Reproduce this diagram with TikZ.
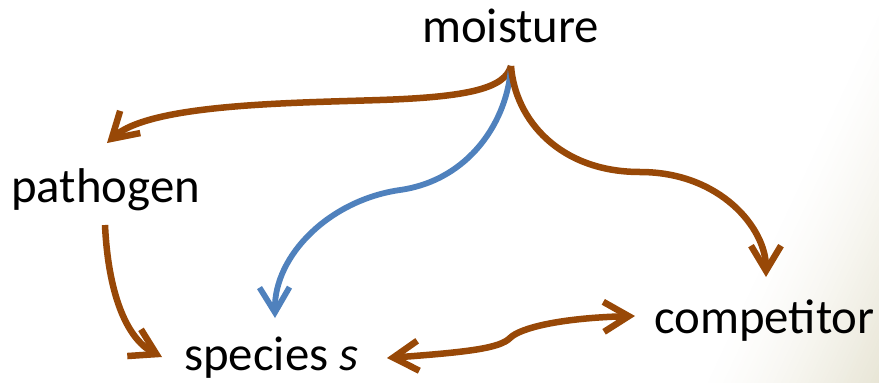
\documentclass[tikz,border=0pt]{standalone}
\usepackage{fontspec}
\setmainfont{Carlito}
\usetikzlibrary{arrows.meta}
\definecolor{brn}{RGB}{152,72,7}
\definecolor{blu}{RGB}{79,129,189}
\definecolor{bgc}{RGB}{222,218,196}
\tikzset{
  lbl/.style={anchor=base west, inner sep=0pt, font=\fontsize{48.8}{58}\selectfont, text=black},
  brarrow/.style={draw=brn, line width=6.5pt, -{Straight Barb[length=25pt,width=30pt]}},
  blarrow/.style={draw=blu, line width=5.8pt, -{Straight Barb[length=25pt,width=30pt]}},
  dbarrow/.style={draw=brn, line width=6.5pt, {Straight Barb[length=25pt,width=30pt]}-{Straight Barb[length=25pt,width=30pt]}}
}
\begin{document}
\begin{tikzpicture}[x=1pt,y=-1pt]
\useasboundingbox (0,0) rectangle (879,383);
% background
\fill[white] (0,0) rectangle (879,383);
\begin{scope}
  \clip (0,0) rectangle (879,383);
  \begin{scope}[rotate around={-25:(879,0)}]
    \foreach \i in {0,...,59}{
      \pgfmathsetmacro{\pc}{100*((\i+0.5)/60)^1.4}
      \fill[bgc!\pc!white] ({879+\i*3.5},-900) rectangle ({879+\i*3.5+4.2},900);
    }
    \fill[bgc] (1088,-900) rectangle (1500,900);
  \end{scope}
\end{scope}
% labels
\node[lbl] (moist) at (422,42) {moisture};
\node[lbl] (path) at (11,202) {pathogen};
\node[lbl] (spec) at (184,370) {species \textit{s}};
\node[lbl] (comp) at (654,333) {competitor};
% connector end points
\coordinate (mS) at (511,66);
\coordinate (pN) at (107,143);
\coordinate (pS) at (105,225);
\coordinate (sNW) at (162,357);
\coordinate (sN) at (275,318);
\coordinate (sE) at (387,358);
\coordinate (cN) at (766,277);
\coordinate (cW) at (635,316);
% arrows
\draw[brarrow] (mS) .. controls (505,88) and (470,97) .. (380,100)
  .. controls (290,103) and (150,104) .. (pN);
\draw[blarrow] (mS) .. controls (508,120) and (470,180) .. (400,190)
  .. controls (330,200) and (274,255) .. (sN);
\draw[brarrow] (mS) .. controls (515,120) and (560,172) .. (640,172)
  .. controls (720,172) and (766,228) .. (cN);
\draw[brarrow] (pS) .. controls (108,290) and (125,338) .. (sNW);
\draw[dbarrow] (sE) .. controls (470,352) and (500,348) .. (510,338)
  .. controls (520,328) and (560,318) .. (cW);
\end{tikzpicture}
\end{document}
